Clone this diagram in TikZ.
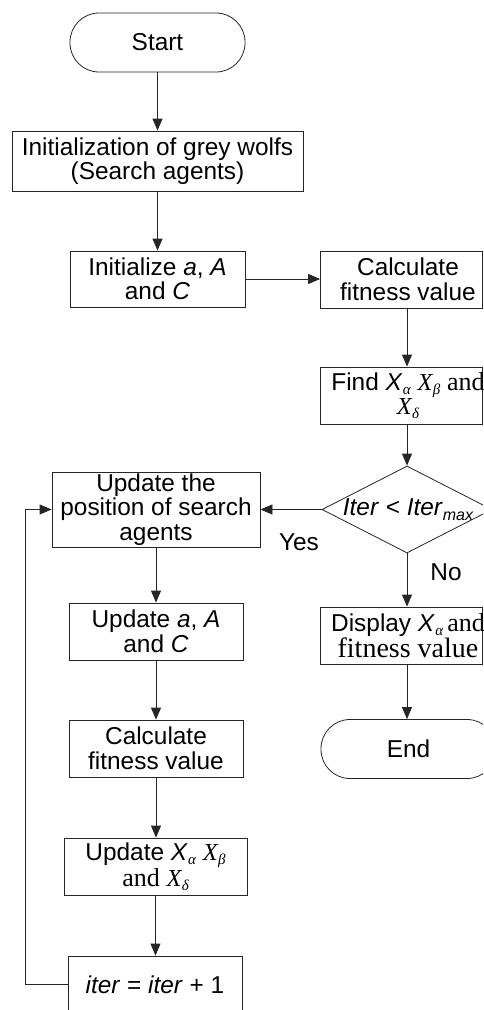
\documentclass[tikz,border=0pt]{standalone}
\usepackage{fontspec}
\setmainfont{Liberation Sans}
\newfontfamily\tms{Liberation Serif}
\usetikzlibrary{shapes.geometric,arrows.meta}

% X with a subscript: sans italic X for alpha, serif italic for the others
\newcommand{\Xa}{\textit{X}\kern0.3pt\raisebox{-4pt}{\tms\itshape\fontsize{15}{15}\selectfont α}}
\newcommand{\Xt}[1]{{\tms\itshape X\kern0.3pt\raisebox{-4pt}{\fontsize{15}{15}\selectfont #1}}}
\newcommand{\sand}{{\tms\fontsize{26}{24.5}\selectfont and}}

\begin{document}
\begin{tikzpicture}[x=1pt,y=-1pt,
  every node/.style={font=\fontsize{24.4}{24.5}\selectfont},
  box/.style={draw=black!85, line width=0.8pt, rectangle, align=center, inner sep=0pt},
  rbox/.style={box, minimum width=162pt, minimum height=57pt},
  rtext/.style={align=center, inner sep=0pt},
  term/.style={draw=black!85, line width=0.8pt, rectangle, rounded corners=29pt,
    minimum width=175pt, minimum height=59pt, inner sep=0pt},
  arr/.style={-{Triangle[length=12pt,width=10pt]}, line width=0.8pt, black!85}]
\useasboundingbox (0,0) rectangle (483,1010);
\clip (0,0) rectangle (483,1010);

% main column
\node[term] (start) at (157.5,42.5) {Start};
\node[box, minimum width=291pt, minimum height=60pt] (init) at (157.5,161)
  {Initialization of grey wolfs\\(Search agents)};
\node[box, minimum width=175pt, minimum height=56pt] (initp) at (157.5,279)
  {Initialize \textit{a}, \textit{A}\\and \textit{C}};

% right column: boxes, with their texts centred on the column axis
\node[rbox] (fit1) at (401.5,279.5) {};
\node[rtext] (fit1t) at ([xshift=6.5pt]fit1.center) {Calculate\\fitness value};
\node[rbox] (find) at (401.5,395.5) {};
\node[rtext] (findt) at ([xshift=6.5pt]find.center) {Find \Xa\ \Xt{β} \sand\\\Xt{δ}};
\node[draw=black!85, line width=0.8pt, diamond, minimum width=170pt, minimum height=87pt,
  inner sep=0pt] (dia) at (407,509.5) {};
\node (cond) at (408,510)
  {\textit{Iter} < \textit{Iter}\raisebox{-5pt}{\fontsize{16}{16}\selectfont\itshape max}};
\node[rbox] (disp) at (401.5,635.5) {};
\node[rtext] (dispt) at ([xshift=6.5pt]disp.center)
  {Display \Xa\,\sand\\[1pt]{\tms\fontsize{28}{24.5}\selectfont fitness value}};
\node[term] (end) at (408.5,749) {End};

% update loop
\node[box, minimum width=208pt, minimum height=75pt] (upd) at (156,509.5)
  {Update the\\position of search\\agents};
\node[box, minimum width=174pt, minimum height=57pt] (updp) at (156,631.5)
  {Update \textit{a}, \textit{A}\\and \textit{C}};
\node[box, minimum width=174pt, minimum height=57pt] (fit2) at (156,748.5)
  {Calculate\\fitness value};
\node[box, minimum width=183pt, minimum height=57pt] (updx) at (155.5,866.5)
  {Update \Xa\ \Xt{β}\\\sand\ \Xt{δ}};
\node[box, minimum width=174pt, minimum height=57pt] (iter) at (155,984.5)
  {\textit{iter} = \textit{iter} + 1};

\node (yes) at (299,542) {Yes};
\node (no) at (446,572) {No};

% connectors
\draw[arr] (start) -- (init);
\draw[arr] (init) -- (initp);
\draw[arr] (initp.east) -- (initp.east -| fit1.west);
\draw[arr] (fit1.south -| dia.north) -- (find.north -| dia.north);
\draw[arr] (find.south -| dia.north) -- (dia.north);
\draw[arr] (dia.west) -- (upd.east);
\draw[arr] (dia.south) -- (disp.north -| dia.south);
\draw[arr] (disp.south -| dia.south) -- (end.north -| dia.south);
\draw[arr] (upd.south) -- (updp.north);
\draw[arr] (updp.south) -- (fit2.north);
\draw[arr] (fit2.south) -- (updx.north -| fit2.south);
\draw[arr] (updx.south) -- (iter.north -| updx.south);
\draw[arr] (iter.west) -- ++(-42,0) |- (upd.west);
\end{tikzpicture}
\end{document}
